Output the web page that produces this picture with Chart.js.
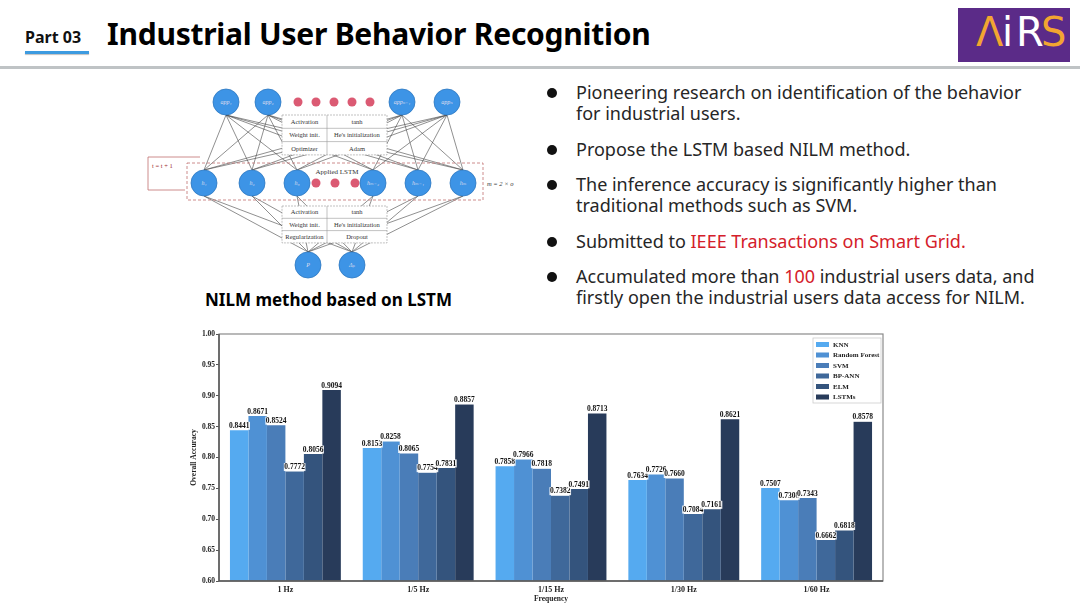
<!DOCTYPE html>
<html>
<head>
<meta charset="utf-8">
<script src="https://cdn.jsdelivr.net/npm/chart.js@4.4.1/dist/chart.umd.min.js"></script>
<style>
  body { margin:0; width:1080px; height:608px; background:#fff; position:relative; overflow:hidden; font-family:"Noto Sans", sans-serif; }
  .abs { position:absolute; white-space:nowrap; }
  .part { left:25px; top:26px; font-size:16px; font-weight:700; color:#111; }
  .partLine { left:25px; top:51px; width:64px; height:3px; background:#3d9be0; box-shadow:0 1px 1px rgba(0,0,0,.25); }
  .title { left:107px; top:13px; font-size:30px; font-weight:700; color:#000; letter-spacing:-0.25px; }
  .rule { left:0; top:66px; width:1080px; height:3px; background:#bfc3c5; }
  .logo { left:958px; top:8px; width:112px; height:54px; background:#5b2b88; }
  .logo span { position:absolute; top:1px; font-family:"DejaVu Sans", sans-serif; font-size:40px; font-weight:400; }
  .caption { left:205px; top:288px; font-size:17px; font-weight:700; color:#000; }
  .bullets { left:546px; top:82px; width:495px; font-size:18px; color:#262626; line-height:21px; white-space:normal; }
  .bullets div { position:relative; padding-left:30px; margin-bottom:14.5px; }
  .bullets div::before { content:""; position:absolute; left:1px; top:6px; width:10px; height:10px; border-radius:50%; background:#111; }
  .red { color:#d4202a; }
  #chartBox { left:190px; top:325px; width:700px; height:283px; }
</style>
</head>
<body>
<div class="abs part">Part 03</div>
<div class="abs partLine"></div>
<div class="abs title">Industrial User Behavior Recognition</div>
<div class="abs rule"></div>
<div class="abs logo">
  <span style="left:18px;color:#f2a531">Λ</span>
  <span style="left:44px;color:#fff">i</span>
  <span style="left:58px;color:#fff">R</span>
  <span style="left:83px;color:#f2a531">S</span>
</div>

<svg class="abs" id="diagram" style="left:130px;top:75px" width="400" height="215" viewBox="130 75 400 215"></svg>
<div class="abs caption">NILM method based on LSTM</div>

<div class="abs bullets">
  <div>Pioneering research on identification of the behavior for industrial users.</div>
  <div>Propose the LSTM based NILM method.</div>
  <div>The inference accuracy is significantly higher than traditional methods such as SVM.</div>
  <div>Submitted to <span class="red">IEEE Transactions on Smart Grid.</span></div>
  <div>Accumulated more than <span class="red">100</span> industrial users data, and firstly open the industrial users data access for NILM.</div>
</div>

<div class="abs" id="chartBox"><canvas id="barChart"></canvas></div>

<script>
// chart data
const categories = ["1 Hz", "1/5 Hz", "1/15 Hz", "1/30 Hz", "1/60 Hz"];
const methods = ["KNN", "Random Forest", "SVM", "BP-ANN", "ELM", "LSTMs"];
const knn    = [0.8441, 0.8153, 0.7858, 0.7634, 0.7507];
const rf     = [0.8671, 0.8258, 0.7966, 0.7726, 0.7308];
const svm    = [0.8524, 0.8065, 0.7818, 0.7660, 0.7343];
const bpann  = [0.7772, 0.7754, 0.7382, 0.7084, 0.6662];
const elm    = [0.8056, 0.7831, 0.7491, 0.7161, 0.6818];
const lstms  = [0.9094, 0.8857, 0.8713, 0.8621, 0.8578];
const yTicks = [0.60, 0.65, 0.70, 0.75, 0.80, 0.85, 0.90, 0.95, 1.00];

const colors = ['#55aaf0', '#4f91d4', '#4a7db8', '#3f689a', '#34547d', '#283b5a'];
const serif = '"Liberation Serif", "DejaVu Serif", serif';

// diagram (picture at top left)
(function(){
  const svg = document.getElementById('diagram');
  let s = '';
  const top = [[226,102,'app₁'],[268,102,'app₂'],[402,102,'appₙ₋₁'],[447,102,'appₙ']];
  const mid = [[204,183,'h₁'],[252,183,'h₂'],[297,183,'h₃'],[373,183,'hₘ₋₂'],[418,183,'hₘ₋₁'],[463,183,'hₘ']];
  const bot = [[308,265,'P'],[352,265,'Δₚ']];
  const r = 13;
  mid.forEach(m => top.forEach(t => {
    s += `<line x1="${m[0]}" y1="${m[1]-r}" x2="${t[0]}" y2="${t[1]+r}" stroke="#444" stroke-width="0.6"/>`;
  }));
  bot.forEach(b => mid.forEach(m => {
    s += `<line x1="${b[0]}" y1="${b[1]-r}" x2="${m[0]}" y2="${m[1]+r}" stroke="#444" stroke-width="0.6"/>`;
  }));
  s += `<rect x="187" y="163" width="296" height="37" fill="none" stroke="#c07070" stroke-dasharray="3,2" stroke-width="0.8"/>`;
  s += `<path d="M200 157 L148 157 L148 190 L185 190" fill="none" stroke="#c07070" stroke-width="0.8"/>`;
  s += `<text x="152" y="168" font-family='${serif}' font-size="6.5" fill="#a03030">t = t + 1</text>`;
  s += `<text x="487" y="186" font-family='${serif}' font-size="6.5" font-style="italic" fill="#333">m = 2 × o</text>`;
  s += `<text x="337" y="174" text-anchor="middle" font-family='${serif}' font-size="7" fill="#333">Applied LSTM</text>`;
  function table(y0, rowH, rows){
    s += `<rect x="282" y="${y0}" width="105" height="${rowH*rows.length}" fill="#fff" stroke="#999" stroke-dasharray="2,1" stroke-width="0.6"/>`;
    s += `<line x1="327" y1="${y0}" x2="327" y2="${y0+rowH*rows.length}" stroke="#999" stroke-width="0.6"/>`;
    rows.forEach((row, i) => {
      const y = y0 + rowH*i;
      if (i) s += `<line x1="282" y1="${y}" x2="387" y2="${y}" stroke="#999" stroke-width="0.6"/>`;
      s += `<text x="304.5" y="${y+rowH*0.68}" text-anchor="middle" font-family='${serif}' font-size="6.5" fill="#333">${row[0]}</text>`;
      s += `<text x="357" y="${y+rowH*0.68}" text-anchor="middle" font-family='${serif}' font-size="6.5" fill="#333">${row[1]}</text>`;
    });
  }
  table(115, 13.3, [['Activation','tanh'],['Weight init.',"He's initialization"],['Optimizer','Adam']]);
  table(206, 12.3, [['Activation','tanh'],['Weight init.',"He's initialization"],['Regularization','Dropout']]);
  [298,316,334,352,370].forEach(x => s += `<circle cx="${x}" cy="102" r="4.5" fill="#db5a73"/>`);
  [316,335,355].forEach(x => s += `<circle cx="${x}" cy="183" r="4.5" fill="#db5a73"/>`);
  top.concat(mid, bot).forEach(n => {
    s += `<circle cx="${n[0]}" cy="${n[1]}" r="${r}" fill="#3d94e6" stroke="#2f78c0" stroke-width="0.8"/>`;
    s += `<text x="${n[0]}" y="${n[1]+2}" text-anchor="middle" font-family='${serif}' font-size="6" font-style="italic" fill="#dde">${n[2]}</text>`;
  });
  svg.innerHTML = s;
})();

// value labels above every bar
const valueLabels = {
  id: 'valueLabels',
  afterDatasetsDraw(chart) {
    const ctx = chart.ctx;
    ctx.save();
    ctx.font = 'bold 7.5px ' + serif;
    ctx.textAlign = 'center';
    ctx.textBaseline = 'bottom';
    chart.data.datasets.forEach((ds, i) => {
      chart.getDatasetMeta(i).data.forEach((bar, j) => {
        const txt = ds.data[j].toFixed(4);
        const w = ctx.measureText(txt).width;
        ctx.fillStyle = 'rgba(255,255,255,0.9)';
        ctx.fillRect(bar.x - w/2 - 0.5, bar.y - 8.5, w + 1, 8);
        ctx.fillStyle = '#111';
        ctx.fillText(txt, bar.x, bar.y - 0.5);
      });
    });
    ctx.restore();
  }
};

// box round the plot + legend inside top right
const frameLegend = {
  id: 'frameLegend',
  afterDraw(chart) {
    const ctx = chart.ctx, a = chart.chartArea;
    ctx.save();
    ctx.strokeStyle = '#8a8a8a';
    ctx.lineWidth = 1.2;
    ctx.strokeRect(a.left, a.top, a.right - a.left, a.bottom - a.top);
    ctx.strokeStyle = '#555';
    ctx.lineWidth = 1.5;
    ctx.beginPath();
    ctx.moveTo(a.left, a.top); ctx.lineTo(a.left, a.bottom); ctx.lineTo(a.right, a.bottom);
    ctx.stroke();

    const bx = a.right - 70, by = a.top + 4;
    ctx.fillStyle = '#fff';
    ctx.fillRect(bx, by, 68, 65);
    ctx.strokeStyle = '#ccc';
    ctx.lineWidth = 0.8;
    ctx.strokeRect(bx, by, 68, 65);
    ctx.font = 'bold 7px ' + serif;
    ctx.textBaseline = 'middle';
    chart.data.datasets.forEach((ds, i) => {
      const y = by + 6.5 + i * 10.5;
      ctx.fillStyle = ds.backgroundColor;
      ctx.fillRect(bx + 3, y - 2.5, 13, 5);
      ctx.fillStyle = '#222';
      ctx.fillText(ds.label, bx + 20, y + 0.5);
    });
    ctx.restore();
  }
};

const seriesData = [knn, rf, svm, bpann, elm, lstms];

var ctxB = document.getElementById('barChart').getContext('2d');
var myBarChart = new Chart(ctxB, {
  type: 'bar',
  data: {
    labels: categories,
    datasets: methods.map((m, i) => ({
      label: m,
      data: seriesData[i],
      backgroundColor: colors[i],
      borderWidth: 0,
      barPercentage: 1,
      categoryPercentage: 0.835
    }))
  },
  options: {
    responsive: true,
    maintainAspectRatio: false,
    animation: false,
    layout: { padding: { top: 9, right: 7, left: 0, bottom: 0 } },
    plugins: { legend: { display: false }, tooltip: { enabled: false } },
    scales: {
      x: {
        grid: { display: false, tickLength: 0 },
        border: { display: false },
        ticks: { color: '#222', font: { family: serif, size: 8, weight: 'bold' }, padding: 4 },
        title: { display: true, text: 'Frequency', color: '#222', font: { family: serif, size: 7.5, weight: 'bold' }, padding: { top: 0 } },
        afterFit(scale) { scale.height = 27; }
      },
      y: {
        min: 0.6,
        max: 1.0,
        afterBuildTicks(scale) { scale.ticks = yTicks.map(v => ({ value: v })); },
        grid: { drawOnChartArea: false, tickLength: 3, color: '#555' },
        border: { display: false },
        ticks: { color: '#222', font: { family: serif, size: 7.5, weight: 'bold' }, padding: 1,
                 callback: v => v.toFixed(2) },
        title: { display: true, text: 'Overall Accuracy', color: '#222', font: { family: serif, size: 7.5, weight: 'bold' }, padding: 0 },
        afterFit(scale) { scale.width = 29; }
      }
    }
  },
  plugins: [valueLabels, frameLegend]
});
</script>
</body>
</html>
